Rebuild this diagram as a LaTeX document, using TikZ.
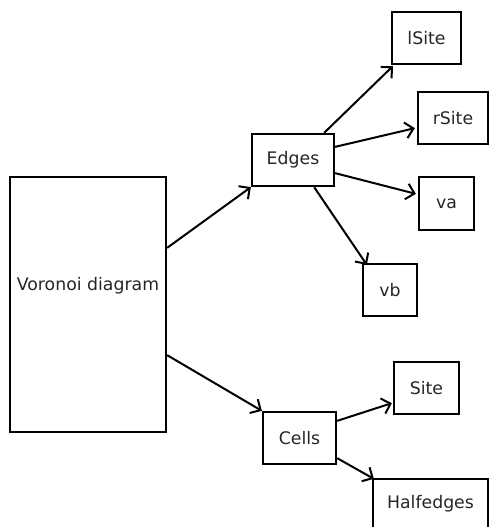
\documentclass[tikz,border=0pt]{standalone}
\usepackage{fontspec}
\setmainfont{DejaVu Sans}
\usetikzlibrary{arrows.meta}
\begin{document}
\begin{tikzpicture}[x=1pt,y=-1pt,
  box/.style={draw=black,line width=2.3pt,fill=white,inner sep=0pt,text=black!85,font=\fontsize{17.3}{20}\selectfont},
  conn/.style={line width=2pt,-{Straight Barb[length=8pt,width=16pt,line width=2pt]}}]
\useasboundingbox (0,0) rectangle (489,527);
\clip (0,0) rectangle (489,527);
\node[box,minimum width=156pt,minimum height=255pt] (V) at (88,304.5) {\raisebox{14.5pt}[0pt][0pt]{Voronoi diagram}};
\node[box,minimum width=82pt,minimum height=52pt] (E) at (293,160) {Edges};
\node[box,minimum width=69pt,minimum height=52pt] (lS) at (426.5,38) {lSite};
\node[box,minimum width=70pt,minimum height=52pt] (rS) at (453,118) {rSite};
\node[box,minimum width=55pt,minimum height=53pt] (vA) at (446.5,203.5) {va};
\node[box,minimum width=54pt,minimum height=52pt] (vB) at (390,290) {vb};
\node[box,minimum width=73pt,minimum height=52pt] (C) at (299.5,438) {Cells};
\node[box,minimum width=65pt,minimum height=52pt] (S) at (426.5,388) {Site};
\node[box,minimum width=115pt,minimum height=50pt] (H) at (430.5,504) {Halfedges};
\draw[conn] ([yshift=-72pt]V.north east) -- (E.south west);
\draw[conn] ([yshift=78pt]V.south east) -- (C.north west);
\draw[conn] ([xshift=-11pt]E.north east) -- ([xshift=2pt,yshift=-1pt]lS.south west);
\draw[conn] ([yshift=-14pt]E.north east) -- ([xshift=-2pt,yshift=17pt]rS.south west);
\draw[conn] ([yshift=14pt]E.south east) -- ([xshift=-2pt,yshift=-18pt]vA.north west);
\draw[conn] ([xshift=-21pt]E.south east) -- ([xshift=5pt,yshift=-2pt]vB.north west);
\draw[conn] ([yshift=-10pt]C.north east) -- ([xshift=-1pt,yshift=12pt]S.south west);
\draw[conn] ([yshift=7pt]C.south east) -- ([xshift=2pt,yshift=-1pt]H.north west);
\end{tikzpicture}
\end{document}
